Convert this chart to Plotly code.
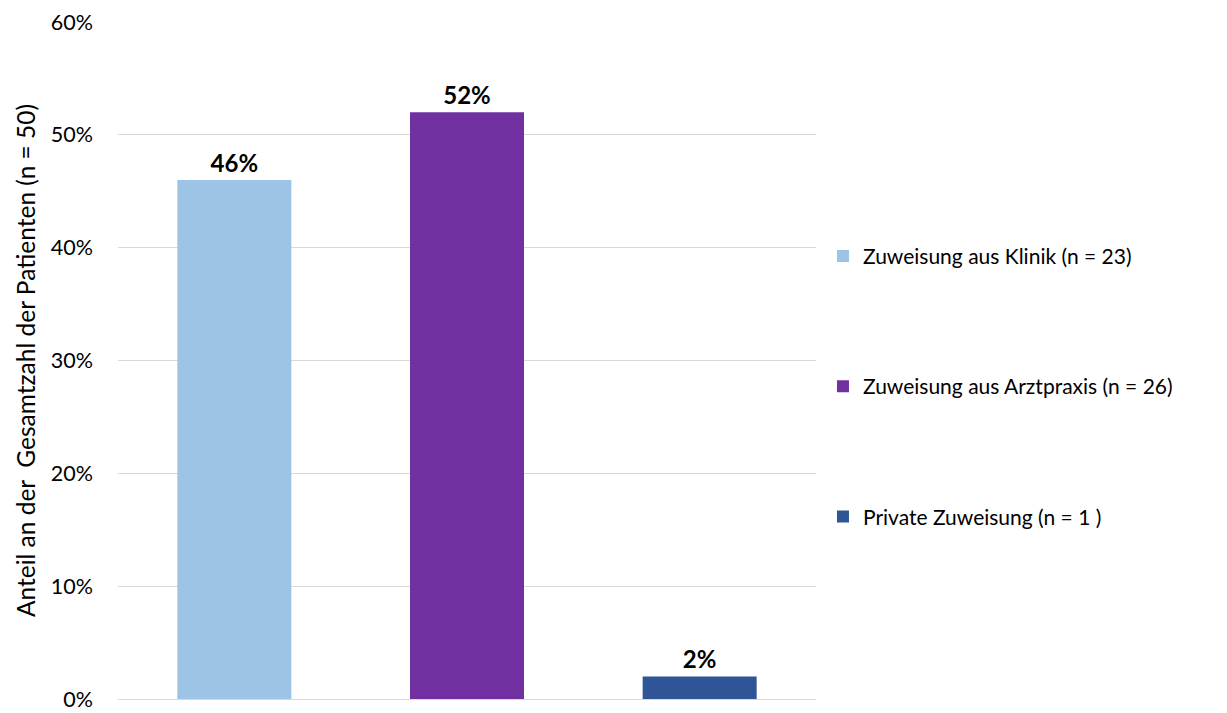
import plotly.graph_objects as go

categories = ["Zuweisung aus Klinik (n = 23)",
              "Zuweisung aus Arztpraxis (n = 26)",
              "Private Zuweisung (n = 1 )"]
shares = [46, 52, 2]
colors = ["#9DC3E6", "#7030A0", "#2F5597"]

FONT = "Lato, Carlito, Calibri, sans-serif"

fig = go.Figure()
for i, (name, val, col) in enumerate(zip(categories, shares, colors)):
    fig.add_trace(go.Bar(
        x=[i], y=[val], name=name, legendgroup=name,
        marker=dict(color=col, line=dict(width=0)),
        width=0.49,
        text=[f"{val}%"], textposition="outside",
        textfont=dict(family=FONT, size=24, color="#000000", weight="bold"),
        cliponaxis=False,
    ))

fig.update_layout(
    width=1227, height=713,
    margin=dict(l=118, r=411, t=22, b=14, autoexpand=False),
    plot_bgcolor="white", paper_bgcolor="white",
    barmode="overlay",
    font=dict(family=FONT, size=21, color="#000000"),
    showlegend=True,
    legend=dict(x=1.01, y=0.462, xanchor="left", yanchor="middle",
                tracegroupgap=100, font=dict(size=21),
                itemwidth=30),
    xaxis=dict(range=[-0.5, 2.5], showticklabels=False, showgrid=False,
               zeroline=False, showline=False, ticks="", automargin=False),
    yaxis=dict(range=[0, 60], tickvals=[0, 10, 20, 30, 40, 50, 60],
               ticktext=["0%", "10%", "20%", "30%", "40%", "50%", "60%"],
               tickfont=dict(size=21.5), ticklabeloverflow="allow",
               showgrid=True, gridcolor="#D9D9D9", gridwidth=1,
               zeroline=True, zerolinecolor="#D9D9D9", zerolinewidth=1,
               ticklabelstandoff=24, automargin=False,
               title=dict(text="Anteil an der  Gesamtzahl der Patienten (n = 50)",
                          font=dict(size=24.5), standoff=8)),
)

fig.write_html("out.html")
